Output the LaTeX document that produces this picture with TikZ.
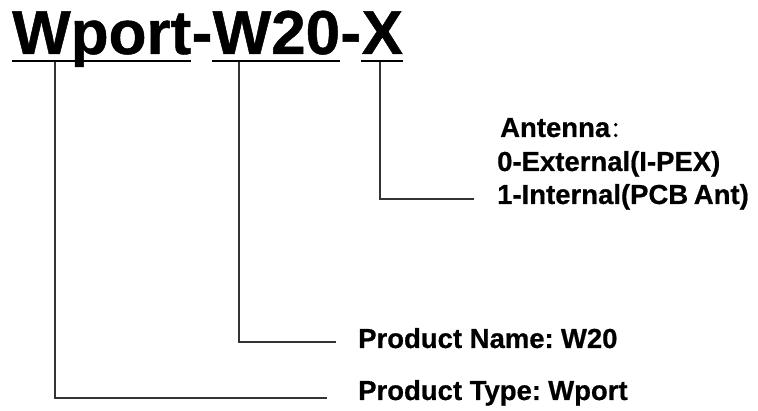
\documentclass[tikz,border=0pt]{standalone}
\usepackage{fontspec}
\setmainfont{Liberation Sans}
\newfontfamily\heavy[FakeBold=0.6]{Liberation Sans Bold}
\newfontfamily\titlefont[FakeBold=0.8]{Liberation Sans Bold}
\newfontfamily\cjk[FakeBold=0.6]{Noto Sans CJK SC}
\begin{document}
\begin{tikzpicture}[x=1pt,y=-1pt]
\tikzset{
  titletext/.style={font=\fontsize{62}{62}\selectfont\titlefont, inner sep=0pt, anchor=base west},
  labeltext/.style={font=\fontsize{27.5}{30}\selectfont\heavy, inner sep=0pt, anchor=base west},
  uline/.style={line width=2.6pt, draw=black},
  leader/.style={line width=1.3pt, draw=black!80}
}
\useasboundingbox[fill=white] (0,0) rectangle (758,411);
% title
\node[titletext] (wport) at (12,54) {Wport};
\node[titletext] (h1) at (wport.base east) {-};
\node[titletext] (w20) at (h1.base east) {W20};
\node[titletext] (h2) at (w20.base east) {-};
\node[titletext] (xx) at (h2.base east) {X};
% underlines
\draw[uline] ([yshift=-7pt]wport.base west) -- ([yshift=-7pt]wport.base east);
\draw[uline] ([yshift=-7pt]w20.base west) -- ([yshift=-7pt]w20.base east);
\draw[uline] ([yshift=-7pt]xx.base west) -- ([yshift=-7pt]xx.base east);
% labels
\node[labeltext] (ant) at (500,137) {Antenna{\cjk\fontsize{22}{22}\selectfont ：}};
\node[labeltext] (ext) at (497,171) {0-External(I-PEX)};
\node[labeltext] (int) at (497,204) {1-Internal(PCB\hspace{-2pt} Ant)};
\node[labeltext] (pname) at (358,348) {Product Name:\hspace{-3pt} W20};
\node[labeltext] (ptype) at (358,400) {Product Type:\hspace{-3pt} Wport};
% leader coordinates
\coordinate (xtop) at (380,62);
\coordinate (xend) at (474,199);
\coordinate (wtop) at (239,62);
\coordinate (wend) at (336,342);
\coordinate (ptop) at (55,62);
\coordinate (pend) at (327,398);
\draw[leader] (xtop) |- (xend);
\draw[leader] (wtop) |- (wend);
\draw[leader] (ptop) |- (pend);
\end{tikzpicture}
\end{document}
